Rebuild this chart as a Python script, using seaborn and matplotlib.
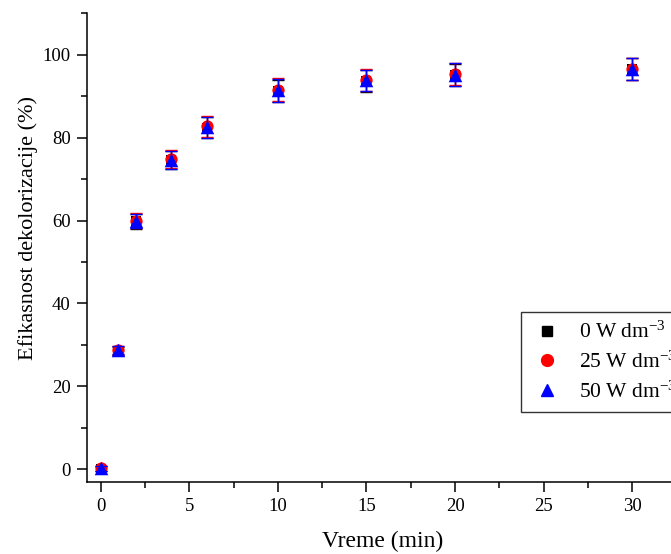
import numpy as np
import pandas as pd
import matplotlib
matplotlib.use("Agg")
import matplotlib.pyplot as plt
from matplotlib.ticker import MultipleLocator
import seaborn as sns

# time points (min)
time_min = [0, 1, 2, 4, 6, 10, 15, 20, 30]

# decolorization efficiency (%) for each power density
eff_0w = [0.1, 28.6, 59.8, 74.6, 82.4, 91.3, 93.7, 95.1, 96.5]
eff_25w = [0.2, 28.7, 60.0, 74.8, 82.7, 91.6, 93.9, 95.3, 96.6]
eff_50w = [0.2, 28.7, 59.9, 74.6, 82.5, 91.4, 93.8, 95.2, 96.5]

# standard deviations
err_0w = [0.6, 1.0, 1.8, 2.2, 2.5, 2.7, 2.6, 2.7, 2.7]
err_25w = [0.6, 1.0, 1.8, 2.2, 2.5, 2.7, 2.6, 2.7, 2.7]
err_50w = [0.6, 1.0, 1.8, 2.2, 2.5, 2.7, 2.6, 2.7, 2.7]

labels = ["0 W dm$^{\\mathregular{-3}}$", "25 W dm$^{\\mathregular{-3}}$", "50 W dm$^{\\mathregular{-3}}$"]
colors = ["black", "red", "blue"]
markers = ["s", "o", "^"]
msizes = [62, 78, 95]

sns.set_style("ticks")
plt.rcParams["font.family"] = ["Liberation Serif", "DejaVu Serif"]
plt.rcParams["mathtext.fontset"] = "custom"
plt.rcParams["mathtext.rm"] = "Liberation Serif"
plt.rcParams["mathtext.it"] = "Liberation Serif:italic"
for key in ["text.color", "axes.labelcolor", "xtick.color", "ytick.color", "axes.edgecolor"]:
    plt.rcParams[key] = "black"

frames = []
for lab, vals, errs in zip(labels, [eff_0w, eff_25w, eff_50w], [err_0w, err_25w, err_50w]):
    frames.append(pd.DataFrame({"time": time_min, "eff": vals, "err": errs, "series": lab}))
df = pd.concat(frames, ignore_index=True)

fig = plt.figure(figsize=(6.71, 5.54), dpi=100)
ax = fig.add_axes([0.1301, 0.1305, 0.918, 0.8455])

for i, (lab, col, mk, ms) in enumerate(zip(labels, colors, markers, msizes)):
    sub = df[df["series"] == lab]
    ax.errorbar(sub["time"], sub["eff"], yerr=sub["err"], fmt="none",
                ecolor=col, elinewidth=1.0, capsize=4, capthick=1.0, zorder=2 + 2 * i)
    sns.scatterplot(data=sub, x="time", y="eff", color=col, marker=mk,
                    s=ms, linewidth=0, ax=ax, zorder=3 + 2 * i, legend=False)

handles = [plt.Line2D([], [], linestyle="none", marker=m, color=c, markersize=sz)
           for m, c, sz in zip(markers, colors, [7.5, 8.5, 9])]
leg = fig.legend(handles, labels, loc="upper left", bbox_to_anchor=(520.5 / 671, 1 - 312.3 / 554),
                 fontsize=15.5, frameon=True, fancybox=False, edgecolor="black",
                 handletextpad=0.65, labelspacing=0.4, borderpad=0.45, handlelength=1.6,
                 borderaxespad=0)
leg.get_frame().set_linewidth(1.0)

ax.set_xlim(-0.75, 34)
ax.set_ylim(-3, 110)
ax.xaxis.set_major_locator(MultipleLocator(5))
ax.xaxis.set_minor_locator(MultipleLocator(2.5))
ax.yaxis.set_major_locator(MultipleLocator(20))
ax.yaxis.set_minor_locator(MultipleLocator(10))

ax.set_xlabel("Vreme (min)", fontsize=17, labelpad=11)
ax.set_ylabel("Efikasnost dekolorizacije (%)", fontsize=16)
ax.xaxis.label.set_x(0.479)
ax.yaxis.set_label_coords(-0.080, 0.5416)
ax.tick_params(which="major", direction="out", length=7, width=1.1, labelsize=13.5, pad=5)
ax.tick_params(which="minor", direction="out", length=4, width=1.1)
sns.despine(ax=ax, top=True, right=True)
for sp in ["left", "bottom"]:
    ax.spines[sp].set_linewidth(1.1)

fig.savefig("out.png", dpi=100)
